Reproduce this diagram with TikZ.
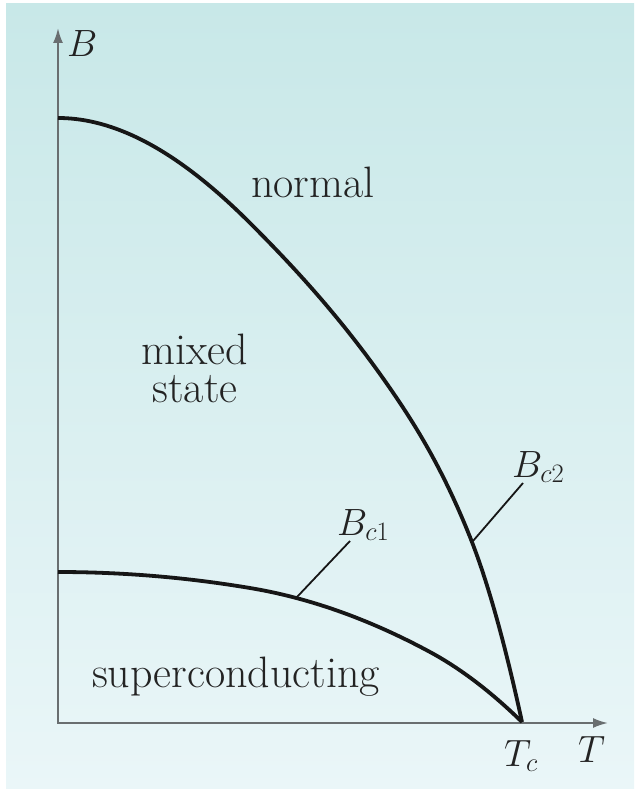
\RequirePackage{fix-cm}
\documentclass[tikz,border=0pt]{standalone}
\usepackage{fontspec}
\usetikzlibrary{arrows.meta}
\definecolor{bgtop}{RGB}{200,232,232}
\definecolor{bgbot}{RGB}{234,246,248}
\definecolor{axisgray}{RGB}{105,110,112}
\definecolor{curveblack}{RGB}{22,22,22}
\definecolor{txt}{RGB}{35,35,35}
\tikzset{
  axisline/.style={draw=axisgray, line width=2pt, -{Latex[length=15pt,width=10pt]}},
  phasecurve/.style={draw=curveblack, line width=3.8pt, line join=round},
  leader/.style={draw=curveblack, line width=1.8pt},
  region/.style={text=txt, font=\fontsize{44}{38}\selectfont\addfontfeature{FakeBold=2.5}, inner sep=0pt, align=center},
  mathlbl/.style={text=txt, font=\fontsize{38}{40}\selectfont, inner sep=0pt},
}
\begin{document}
\begin{tikzpicture}[x=1pt,y=-1pt]
\useasboundingbox (0,0) rectangle (634,789);
\fill[white] (0,0) rectangle (634,789);
\shade[top color=bgtop, bottom color=bgbot] (6,4) rectangle (634,789);
% coordinates
\coordinate (o) at (58,723);
\coordinate (ytip) at (58,28);
\coordinate (xtip) at (608,723);
\coordinate (b2s) at (58,118);
\coordinate (b2k1) at (250,223);
\coordinate (b2k2) at (400,403);
\coordinate (b2k3) at (470,537);
\coordinate (b1s) at (58,572);
\coordinate (b1k1) at (250,588);
\coordinate (b1k2) at (430,652);
\coordinate (tc) at (522,722);
\coordinate (l1a) at (297,597);
\coordinate (l1b) at (350,541);
\coordinate (l2a) at (473,541);
\coordinate (l2b) at (523,483);
% axes
\draw[axisline] (o) -- (ytip);
\draw[axisline] ([xshift=-1pt]o) -- (xtip);
% curves
\draw[phasecurve] (b2s) .. controls (122,118) and (186,159) .. (b2k1)
  .. controls (300,273) and (350,328) .. (b2k2)
  .. controls (423.3,438) and (446.7,478.7) .. (b2k3)
  .. controls (487.3,580.3) and (504.7,642.3) .. (tc);
\draw[phasecurve] (b1s) .. controls (122,572) and (186,577.3) .. (b1k1)
  .. controls (310,598) and (370,619.6) .. (b1k2)
  .. controls (460.7,668.6) and (491.3,692) .. (tc);
% leaders
\draw[leader] (l1a) -- (l1b);
\draw[leader] (l2a) -- (l2b);
% labels
\node[mathlbl, anchor=base west] (lB) at (67,57) {$B$};
\node[mathlbl, anchor=base west] (lT) at (578,762) {$T$};
\node[mathlbl, anchor=base west] (lTc) at (504,766) {$T_c$};
\node[mathlbl, anchor=base west] (lBc1) at (337,535) {$B_{c1}$};
\node[mathlbl, anchor=base west] (lBc2) at (512,477) {$B_{c2}$};
\node[region, anchor=base] (normal) at (313,197) {normal};
\node[region, anchor=base] (mixed) at (195,402) {mixed\\state};
\node[region, anchor=base] (sc) at (236,687) {superconducting};
\end{tikzpicture}
\end{document}
